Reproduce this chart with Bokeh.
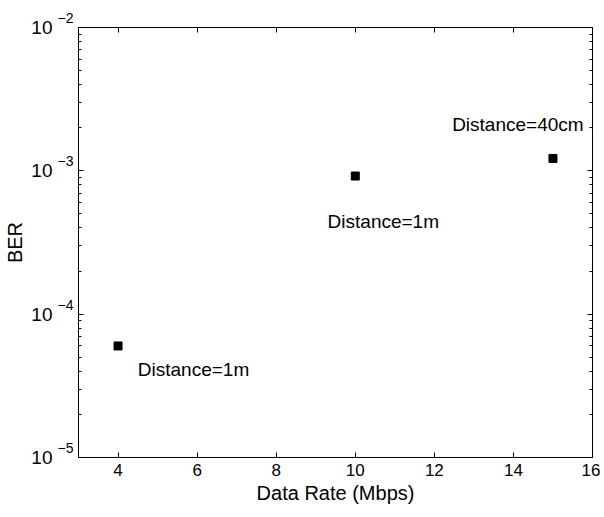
from bokeh.plotting import figure
from bokeh.models import LogAxis, LinearAxis, Range1d, FixedTicker, ColumnDataSource
from bokeh.core.properties import value
from bokeh.embed import file_html
from bokeh.resources import INLINE

# data
data_rate = [4, 10, 15]
ber = [6.0e-5, 9.2e-4, 1.22e-3]

label_text = ["Distance=1m", "Distance=1m", "Distance=40cm"]
label_x = [4.5, 9.3, 12.45]
label_y = [4.1e-5, 4.4e-4, 2.1e-3]

x_ticks = [4, 6, 8, 10, 12, 14, 16]
y_ticks = [1e-5, 1e-4, 1e-3, 1e-2]
y_tick_base = ["10", "10", "10", "10"]
y_tick_exp = ["\u22125", "\u22124", "\u22123", "\u22122"]

FONT = "Liberation Sans"

y_minor = [m * t for t in y_ticks[:-1] for m in range(2, 10)]

p = figure(width=600, height=509, y_axis_type="log",
           x_range=Range1d(3, 16), y_range=Range1d(1e-5, 1e-2),
           output_backend="svg", toolbar_location=None,
           min_border_left=78, min_border_right=8,
           min_border_top=27, min_border_bottom=52)

p.xgrid.visible = False
p.ygrid.visible = False
p.outline_line_color = "black"
p.outline_line_width = 1
p.background_fill_color = "white"
p.border_fill_color = "white"

src = ColumnDataSource(dict(x=data_rate, y=ber))
p.scatter("x", "y", source=src, marker="square", size=8, color="black")

lsrc = ColumnDataSource(dict(x=label_x, y=label_y, t=label_text))
p.text("x", "y", text="t", source=lsrc, text_align="left", text_baseline="middle",
       text_font=value(FONT), text_font_size="19px", text_color="black")

def style(ax, labels=True):
    ax.axis_line_color = "black"
    ax.major_tick_line_color = "black"
    ax.minor_tick_line_color = "black"
    ax.major_tick_in = 5
    ax.major_tick_out = 0
    ax.minor_tick_in = 3
    ax.minor_tick_out = 0
    if labels:
        ax.major_label_text_font = FONT
        ax.major_label_text_color = "black"
        ax.axis_label_text_font = FONT
        ax.axis_label_text_font_style = "normal"
        ax.axis_label_text_color = "black"
        ax.axis_label_text_font_size = "20px"
    else:
        ax.major_label_text_font_size = "1px"
        ax.major_label_text_color = None
        ax.major_label_standoff = 0

xa = p.xaxis[0]
xa.ticker = FixedTicker(ticks=x_ticks, minor_ticks=[])
style(xa)
xa.major_label_text_font_size = "17px"
xa.major_label_standoff = 6
xa.axis_label = "Data Rate (Mbps)"
xa.axis_label_standoff = 3

# inner left axis: the exponents (superscripts) of the tick labels
ya = p.yaxis[0]
ya.ticker = FixedTicker(ticks=y_ticks, minor_ticks=y_minor)
style(ya)
ya.major_label_overrides = {t: s + "\n " for t, s in zip(y_ticks, y_tick_exp)}
ya.major_label_text_font_size = "14px"
ya.major_label_text_baseline = "middle"
ya.major_label_standoff = 5

# outer left axis: the "10" bases and the axis title
yb = LogAxis(ticker=FixedTicker(ticks=y_ticks, minor_ticks=[]))
style(yb)
yb.axis_line_color = None
yb.major_tick_line_color = None
yb.minor_tick_line_color = None
yb.major_label_overrides = {t: s for t, s in zip(y_ticks, y_tick_base)}
yb.major_label_text_font_size = "19px"
yb.major_label_standoff = 2
yb.axis_label = "BER"
yb.axis_label_standoff = 2
p.add_layout(yb, "left")

ra = LogAxis(ticker=FixedTicker(ticks=y_ticks, minor_ticks=y_minor))
style(ra, labels=False)
p.add_layout(ra, "right")

ta = LinearAxis(ticker=FixedTicker(ticks=x_ticks, minor_ticks=[]))
style(ta, labels=False)
p.add_layout(ta, "above")

open("out.html", "w").write(file_html(p, INLINE))
